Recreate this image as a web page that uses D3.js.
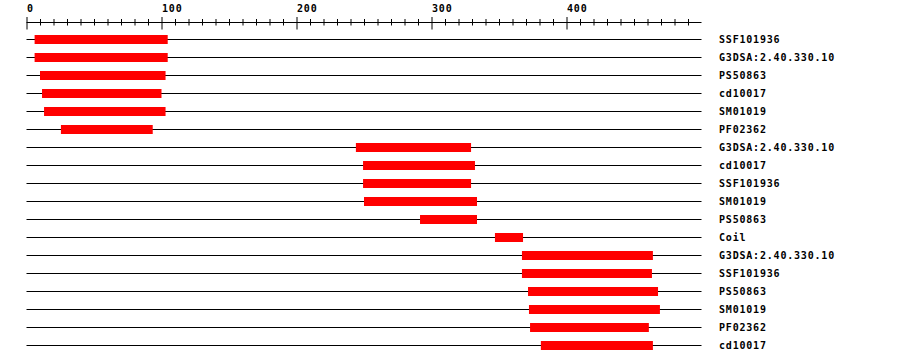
<!DOCTYPE html>
<html><head><meta charset="utf-8">
<script src="https://cdn.jsdelivr.net/npm/d3@7"></script>
<style>body{margin:0;background:#fff}svg{display:block}
text{font-family:"DejaVu Sans Mono",monospace;font-weight:bold;font-size:10px;letter-spacing:0.8px;fill:#000}</style>
</head><body>
<script>
const labels = ["SSF101936","G3DSA:2.40.330.10","PS50863","cd10017","SM01019","PF02362",
  "G3DSA:2.40.330.10","cd10017","SSF101936","SM01019","PS50863","Coil",
  "G3DSA:2.40.330.10","SSF101936","PS50863","SM01019","PF02362","cd10017"];
const starts = [6,6,10,11.5,13,25.5, 244,249.3,249.3,250,291.5,347, 367,367,371.5,372.2,373,381];
const ends   = [104.6,104.6,103,100,103,93.5, 329.3,332.2,329.3,333.7,333.7,367.8, 464,463.3,467.8,469.2,461,464];
const majorTicks = [0,100,200,300,400];
const minorTicks = d3.range(0,500,10);

const W=900,H=364;
const svg=d3.select("body").append("svg").attr("width",W).attr("height",H);
const x=d3.scaleLinear().domain([0,500]).range([26.5,701.5]);
const y=d3.scaleBand().domain(d3.range(labels.length)).range([30,354]);
const rowY=i=>Math.round(y(i)+y.bandwidth()/2);

// axis
const axisY=22.5;
const gAx=svg.append("g").attr("transform",`translate(0,${axisY})`);
gAx.append("line").attr("x1",x(0)).attr("x2",x(500)).attr("stroke","#000").attr("stroke-width",1);
const minorAxis=d3.axisTop(x).tickValues(minorTicks.filter(v=>!majorTicks.includes(v))).tickFormat("").tickSize(3);
const gMin=gAx.append("g").call(minorAxis);
gMin.select(".domain").remove();
gMin.selectAll(".tick line").attr("y1",-3.5).attr("y2",3).attr("stroke","#000");
const majorAxis=d3.axisTop(x).tickValues(majorTicks).tickFormat(d3.format("d")).tickSize(5);
const gMaj=gAx.append("g").call(majorAxis);
gMaj.select(".domain").remove();
gMaj.selectAll(".tick line").attr("y1",-5.5).attr("y2",7).attr("stroke","#000");
gMaj.selectAll(".tick text").attr("text-anchor","start").attr("x",0).attr("y",-11).attr("dy",0)
  .style("font-family",'"DejaVu Sans Mono",monospace').style("font-weight","bold").style("font-size","10px");
gAx.attr("font-family",null).attr("font-size",null);

// rows
const rows=svg.selectAll("g.row").data(labels).join("g").attr("class","row")
  .attr("transform",(d,i)=>`translate(0,${rowY(i)})`);
rows.append("line").attr("x1",x(0)).attr("x2",x(500)).attr("y1",0.5).attr("y2",0.5).attr("stroke","#000");
rows.append("rect").attr("x",(d,i)=>x(starts[i])).attr("width",(d,i)=>x(ends[i])-x(starts[i]))
  .attr("y",-4).attr("height",9).attr("fill","#ff0000");
rows.append("text").attr("x",719).attr("y",4).text(d=>d);
</script>
</body></html>
